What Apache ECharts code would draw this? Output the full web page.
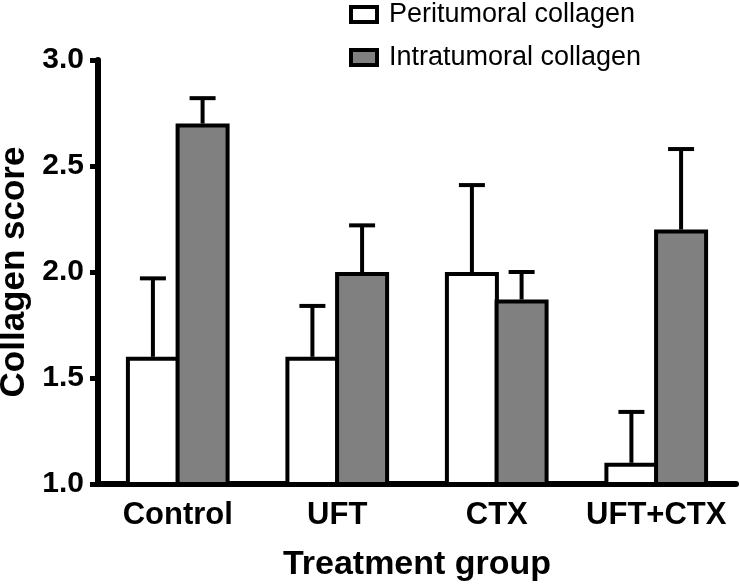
<!DOCTYPE html>
<html>
<head>
<meta charset="utf-8">
<script src="https://cdn.jsdelivr.net/npm/echarts@6/dist/echarts.min.js"></script>
<style>
html,body{margin:0;padding:0;background:#fff;}
#chart{width:740px;height:587px;}
</style>
</head>
<body>
<div id="chart"></div>
<script>
const categories = ['Control', 'UFT', 'CTX', 'UFT+CTX'];
const periMean = [1.6, 1.6, 2.0, 1.1];
const periErr = [0.37, 0.24, 0.41, 0.24];
const intraMean = [2.7, 2.0, 1.87, 2.2];
const intraErr = [0.12, 0.22, 0.13, 0.38];
const yTicks = [1.0, 1.5, 2.0, 2.5, 3.0];

const FONT = 'Liberation Sans, Arial, Helvetica, sans-serif';
const BAR_W = 54;
const BAR_GAP = -0.08;
const HALF_STEP = BAR_W * (1 + BAR_GAP) / 2;

function errSeries(name, means, errs, side) {
  return {
    type: 'custom',
    name: name + ' SEM',
    z: 1,
    silent: true,
    data: means.map((m, i) => [i, m, m + errs[i]]),
    renderItem: function (params, api) {
      const i = api.value(0);
      const base = api.coord([i, api.value(1)]);
      const top = api.coord([i, api.value(2)]);
      const x = base[0] + side * HALF_STEP;
      const half = 13;
      return {
        type: 'group',
        children: [
          { type: 'line', shape: { x1: x, y1: base[1], x2: x, y2: top[1] },
            style: { stroke: '#000', lineWidth: 4 } },
          { type: 'line', shape: { x1: x - half, y1: top[1], x2: x + half, y2: top[1] },
            style: { stroke: '#000', lineWidth: 4 } }
        ]
      };
    }
  };
}

const chart = echarts.init(document.getElementById('chart'));
chart.setOption({
  animation: false,
  backgroundColor: '#fff',
  grid: { left: 98, right: 4, top: 60, bottom: 103, containLabel: false, outerBoundsMode: 'none' },
  legend: [
    {
      data: [{ name: 'Peritumoral collagen', icon: 'rect', itemStyle: { color: '#fff', borderColor: '#000', borderWidth: 4 } }],
      left: 344, top: -4, itemWidth: 26, itemHeight: 15,
      textStyle: { fontFamily: FONT, fontSize: 27, color: '#000', padding: [0, 0, 0, 7] },
      selectedMode: false
    },
    {
      data: [{ name: 'Intratumoral collagen', icon: 'rect', itemStyle: { color: '#808080', borderColor: '#000', borderWidth: 4 } }],
      left: 344, top: 39, itemWidth: 26, itemHeight: 15,
      textStyle: { fontFamily: FONT, fontSize: 27, color: '#000', padding: [0, 0, 0, 7] },
      selectedMode: false
    }
  ],
  xAxis: {
    type: 'category',
    data: categories,
    name: 'Treatment group',
    nameLocation: 'middle',
    nameGap: 64,
    nameTextStyle: { fontFamily: FONT, fontSize: 34, fontWeight: 'bold', color: '#000', verticalAlign: 'top' },
    axisLine: { lineStyle: { color: '#000', width: 6 } },
    axisTick: { alignWithLabel: true, length: 9, lineStyle: { color: '#000', width: 6 } },
    axisLabel: { interval: 0, fontFamily: FONT, fontSize: 31, fontWeight: 'bold', color: '#000', margin: 16 }
  },
  yAxis: {
    type: 'value',
    min: 1.0, max: 3.0, interval: 0.5,
    name: 'Collagen score',
    nameLocation: 'middle',
    nameGap: 64,
    nameTextStyle: { fontFamily: FONT, fontSize: 35, fontWeight: 'bold', color: '#000' },
    axisLine: { show: true, lineStyle: { color: '#000', width: 6 } },
    axisTick: { show: true, length: 8, lineStyle: { color: '#000', width: 5 } },
    splitLine: { show: false },
    axisLabel: {
      fontFamily: FONT, fontSize: 30, fontWeight: 'bold', color: '#000', margin: 14,
      formatter: v => yTicks.includes(v) ? v.toFixed(1) : ''
    }
  },
  series: [
    {
      name: 'Peritumoral collagen', type: 'bar', data: periMean,
      barWidth: BAR_W, barGap: (BAR_GAP * 100) + '%', z: 2,
      itemStyle: { color: '#fff', borderColor: '#000', borderWidth: 4 }
    },
    {
      name: 'Intratumoral collagen', type: 'bar', data: intraMean,
      barWidth: BAR_W, barGap: (BAR_GAP * 100) + '%', z: 2,
      itemStyle: { color: '#808080', borderColor: '#000', borderWidth: 4 }
    },
    errSeries('Peritumoral collagen', periMean, periErr, -1),
    errSeries('Intratumoral collagen', intraMean, intraErr, 1)
  ]
});
</script>
</body>
</html>
